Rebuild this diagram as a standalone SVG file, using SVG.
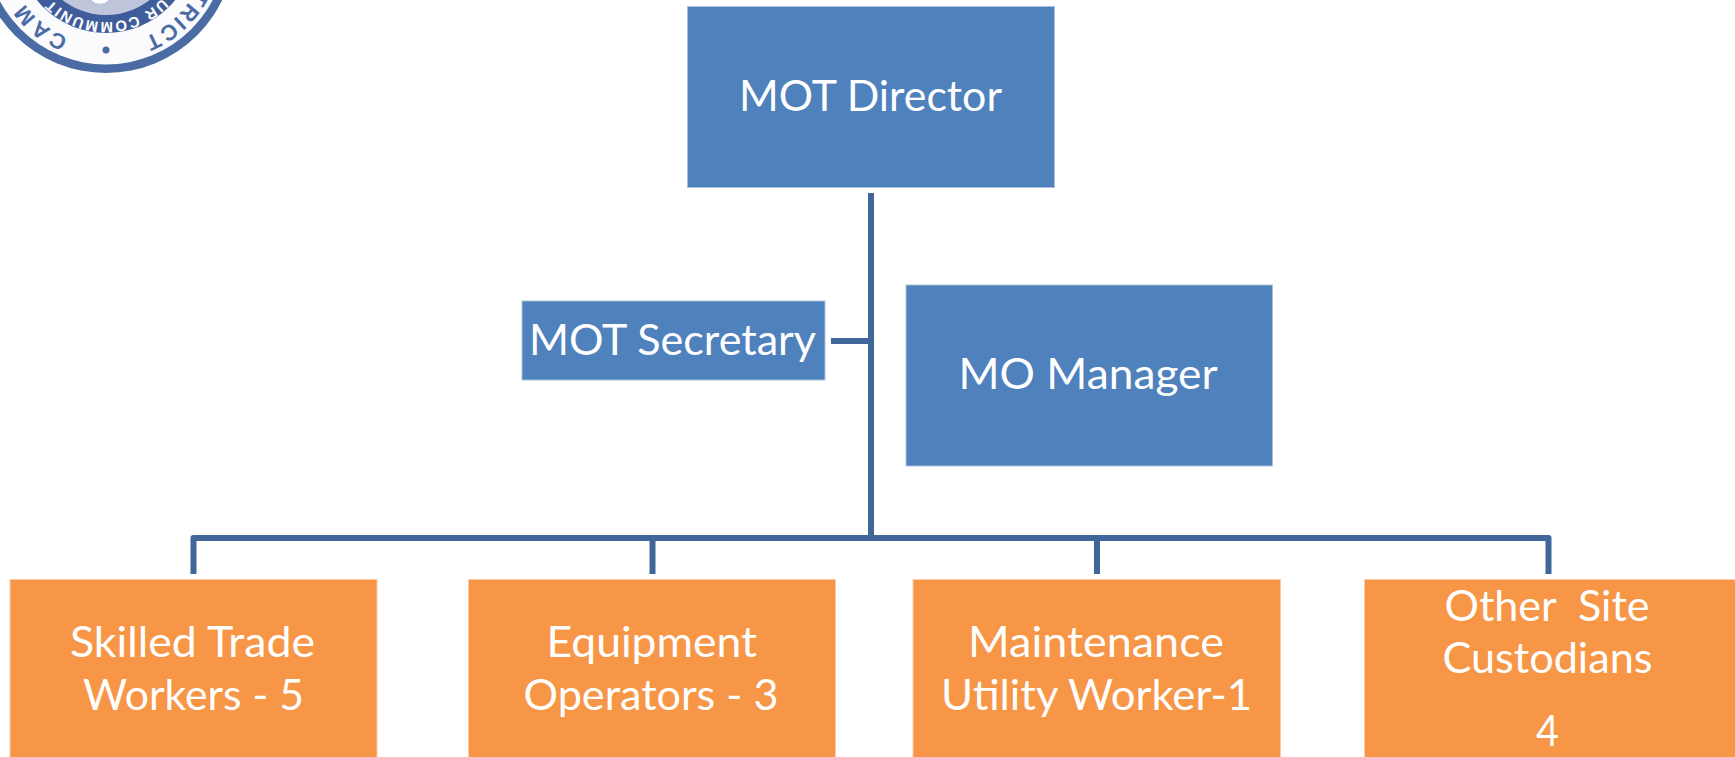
<svg xmlns="http://www.w3.org/2000/svg" width="1735" height="757" viewBox="0 0 1735 757">
<style>
.blue{fill:#4f81bd;stroke:#a9c1de;stroke-width:1}
.orange{fill:#f79646;stroke:#fbcba3;stroke-width:1}
text.l{font-family:Lato,"Open Sans","Liberation Sans",sans-serif;font-size:43px;fill:#fff;white-space:pre}
.c{fill:none;stroke:#41679a;stroke-width:6;stroke-linejoin:round}
.s{font-family:"Liberation Sans",sans-serif;font-weight:bold}
</style>
<defs>
<path id="outerArc" d="M207,-56 A101,101 0 0 1 5,-56"/>
<path id="innerArc" d="M184,-56 A77,77 0 0 1 28,-56"/>
</defs>
<rect width="1735" height="757" fill="#fff"/>
<g id="logo">
<circle cx="106" cy="-56" r="129" fill="#4a6ba3"/>
<circle cx="106" cy="-56" r="120.500" fill="#fbfbfd"/>
<circle cx="106" cy="-56" r="89" fill="#3f5d9b"/>
<circle cx="106" cy="-56" r="71" fill="#bfc6dc"/>
<ellipse cx="100" cy="0" rx="8" ry="3.500" fill="#fff"/>
<circle cx="106" cy="50" r="3.500" fill="#4a6ba3"/>
<text class="s" font-size="22" fill="#4a6ba3"><textPath href="#outerArc" startOffset="121" text-anchor="end" letter-spacing="2">TRICT</textPath></text>
<text class="s" font-size="22" fill="#4a6ba3"><textPath href="#outerArc" startOffset="197" letter-spacing="3">CAM</textPath></text>
<text class="s" font-size="15" fill="#fff"><textPath href="#innerArc" startOffset="122" text-anchor="middle" letter-spacing="1.500">UR COMMUNIT</textPath></text>
</g>
<g id="connectors">
<path class="c" d="M871,193 V538"/>
<path class="c" d="M831,341 H871"/>
<path class="c" d="M193.500,574 V538 H1548.500 V574"/>
<path class="c" d="M652.500,538 V574"/>
<path class="c" d="M1097,538 V574"/>
</g>
<g id="mot-director">
<rect class="blue" x="687.500" y="6.500" width="367" height="181"/>
<text class="l" x="739" y="111" textLength="263" lengthAdjust="spacingAndGlyphs">MOT Director</text>
</g>
<g id="mot-secretary">
<rect class="blue" x="522" y="301" width="303" height="79"/>
<text class="l" x="529" y="355" textLength="287" lengthAdjust="spacingAndGlyphs">MOT Secretary</text>
</g>
<g id="mo-manager">
<rect class="blue" x="906" y="285" width="366.500" height="181"/>
<text class="l" x="958.500" y="389" textLength="259" lengthAdjust="spacingAndGlyphs">MO Manager</text>
</g>
<g id="skilled-trade-workers">
<rect class="orange" x="10" y="579.500" width="367" height="190"/>
<text class="l" x="70" y="657" textLength="245" lengthAdjust="spacingAndGlyphs">Skilled Trade</text>
<text class="l" x="83" y="710" textLength="221" lengthAdjust="spacingAndGlyphs">Workers - 5</text>
</g>
<g id="equipment-operators">
<rect class="orange" x="468.500" y="579.500" width="367" height="190"/>
<text class="l" x="546.500" y="657" textLength="210.500" lengthAdjust="spacingAndGlyphs">Equipment</text>
<text class="l" x="523.500" y="710" textLength="255" lengthAdjust="spacingAndGlyphs">Operators - 3</text>
</g>
<g id="maintenance-utility-worker">
<rect class="orange" x="913" y="579.500" width="367.500" height="190"/>
<text class="l" x="968" y="657" textLength="256" lengthAdjust="spacingAndGlyphs">Maintenance</text>
<text class="l" x="941" y="710" textLength="311" lengthAdjust="spacingAndGlyphs">Utility Worker-1</text>
</g>
<g id="other-site-custodians">
<rect class="orange" x="1364.500" y="579.500" width="371" height="190"/>
<text class="l" x="1444.500" y="621" textLength="205" lengthAdjust="spacingAndGlyphs">Other  Site</text>
<text class="l" x="1442.500" y="673" textLength="210" lengthAdjust="spacingAndGlyphs">Custodians</text>
<text class="l" x="1536" y="746" textLength="23" lengthAdjust="spacingAndGlyphs">4</text>
</g>
</svg>
